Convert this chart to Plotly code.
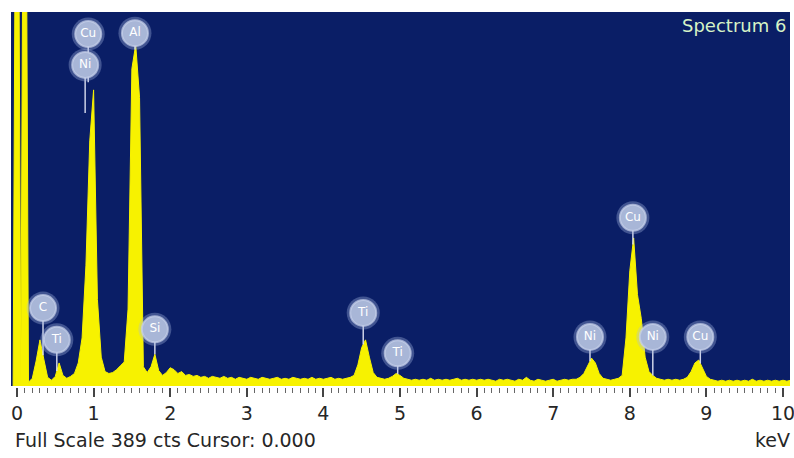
import numpy as np
import plotly.graph_objects as go

# EDS spectrum counts, one channel every 0.05 keV starting at -0.05 keV
counts = [
    0, 900, 0, 900, 4, 8, 26, 48, 28, 9,          # -0.05 .. 0.40
    6, 10, 24, 11, 8, 10, 13, 24, 50, 125,        # 0.45 .. 0.90
    255, 308, 90, 30, 15, 13, 14, 17, 21, 25,     # 0.95 .. 1.40
    80, 330, 355, 300, 20, 14, 20, 33, 16, 11,    # 1.45 .. 1.90
    14, 19, 17, 13, 15, 11, 12, 10, 11, 9,        # 1.95 .. 2.40
    10, 8, 10, 9, 8, 10, 8, 9, 7, 9,              # 2.45 .. 2.90
    8, 7, 9, 8, 7, 9, 8, 7, 8, 9,                 # 2.95 .. 3.40
    7, 8, 7, 9, 8, 7, 8, 7, 9, 7,                 # 3.45 .. 3.90
    8, 7, 8, 9, 7, 8, 7, 8, 9, 11,                # 3.95 .. 4.40
    22, 40, 48, 30, 14, 9, 8, 7, 8, 10,           # 4.45 .. 4.90
    13, 11, 8, 7, 6, 7, 6, 7, 6, 8,               # 4.95 .. 5.40
    6, 7, 6, 7, 6, 7, 8, 6, 7, 6,                 # 5.45 .. 5.90
    7, 6, 7, 6, 7, 6, 5, 7, 6, 7,                 # 5.95 .. 6.40
    6, 5, 7, 6, 9, 6, 5, 7, 6, 5,                 # 6.45 .. 6.90
    6, 7, 5, 6, 7, 6, 7, 7, 9, 13,                # 6.95 .. 7.40
    21, 29, 24, 13, 8, 7, 6, 7, 8, 11,            # 7.45 .. 7.90
    50, 120, 154, 95, 70, 30, 15, 11, 8, 7,       # 7.95 .. 8.40
    6, 7, 6, 7, 6, 7, 9, 15, 24, 27,              # 8.45 .. 8.90
    18, 10, 7, 6, 5, 6, 5, 6, 5, 6,               # 8.95 .. 9.40
    5, 6, 5, 7, 5, 6, 5, 6, 5, 6,                 # 9.45 .. 9.90
    5, 6, 5, 6,                                   # 9.95 .. 10.10
]
channel_start_keV = -0.05
channel_width_keV = 0.05
energy = np.round(channel_start_keV + channel_width_keV * np.arange(len(counts)), 3)

full_scale = 389
cursor = 0.000

label_names = ["C", "Ti", "Ni", "Cu", "Al", "Si", "Ti", "Ti", "Ni", "Cu", "Ni", "Cu"]
label_keV = [0.34, 0.52, 0.89, 0.93, 1.54, 1.80, 4.52, 4.97, 7.48, 8.04, 8.30, 8.92]
label_cts = [81, 48, 334, 366, 367, 59, 76, 34, 51, 175, 51, 51]

tick_values = list(range(0, 11))
tick_labels = [str(v) for v in tick_values]

x_range = [-0.078, 10.091]

BG = "#0a1e66"
YELLOW = "#f7f200"
TXT = "#262626"
FONT = "DejaVu Sans"
STEM_MAX = 50  # longest stem, in counts

fig = go.Figure()

fig.add_trace(go.Scatter(
    x=energy, y=counts, mode="lines", fill="tozeroy",
    line=dict(color=YELLOW, width=1), fillcolor=YELLOW,
    hoverinfo="skip", showlegend=False,
))

# stems from labels down to the spectrum
sx, sy = [], []
for e, c in zip(label_keV, label_cts):
    bottom = max(float(np.interp(e, energy, counts)), c - STEM_MAX)
    sx += [e, e, None]
    sy += [c, bottom, None]
fig.add_trace(go.Scatter(
    x=sx, y=sy, mode="lines",
    line=dict(color="rgba(225,230,245,0.9)", width=1.5),
    hoverinfo="skip", showlegend=False,
))

# glow
fig.add_trace(go.Scatter(
    x=label_keV, y=label_cts, mode="markers",
    marker=dict(size=33, color="rgba(170,185,225,0.35)", line=dict(width=0)),
    hoverinfo="skip", showlegend=False,
))
fig.add_trace(go.Scatter(
    x=label_keV, y=label_cts, mode="markers+text",
    text=label_names, textposition="middle center",
    textfont=dict(family=FONT, size=12, color="#ffffff"),
    marker=dict(size=26, color="rgba(168,182,215,1)",
                line=dict(width=2, color="rgba(200,210,235,0.7)")),
    hoverinfo="skip", showlegend=False,
))

fig.update_layout(
    width=794, height=458,
    margin=dict(l=11, r=4, t=12, b=72, autoexpand=False),
    paper_bgcolor="#ffffff", plot_bgcolor=BG,
    showlegend=False,
    xaxis=dict(
        range=x_range, showgrid=False, zeroline=False, automargin=False,
        tickmode="array", tickvals=tick_values, ticktext=tick_labels,
        ticks="outside", ticklen=9, tickwidth=1.5, tickcolor="#444",
        tickfont=dict(family=FONT, size=19, color=TXT),
        ticklabelstandoff=0, ticklabeloverflow="allow",
        showline=True, linecolor="#ffffff", linewidth=2,
        minor=dict(dtick=0.1, tick0=0, ticks="outside", ticklen=5,
                   tickwidth=1, tickcolor="#666"),
        fixedrange=True,
    ),
    yaxis=dict(
        range=[0, full_scale], showgrid=False, zeroline=False,
        showticklabels=False, ticks="", fixedrange=True, automargin=False,
    ),
    annotations=[
        dict(xref="paper", yref="paper", x=1, y=0.9626, xanchor="right",
             yanchor="middle", xshift=-2, showarrow=False,
             text="Spectrum 6",
             font=dict(family=FONT, size=18, color="#d6f3c6")),
        dict(xref="paper", yref="paper", x=0.0026, y=-0.1444, xanchor="left",
             yanchor="middle", showarrow=False,
             text=f"Full Scale {full_scale} cts Cursor: {cursor:.3f}",
             font=dict(family=FONT, size=19, color=TXT)),
        dict(xref="paper", yref="paper", x=1, y=-0.1444, xanchor="right",
             yanchor="middle", xshift=2, showarrow=False,
             text="keV",
             font=dict(family=FONT, size=19, color=TXT)),
    ],
)

fig.write_html("out.html")
